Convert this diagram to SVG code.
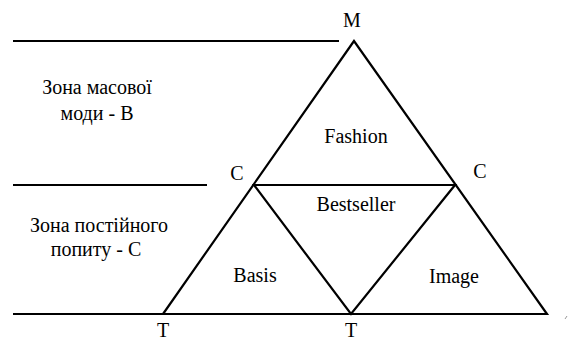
<svg xmlns="http://www.w3.org/2000/svg" width="569" height="341" viewBox="0 0 569 341" font-family="Liberation Serif, Times New Roman, serif">
<style>
text{font-size:20px;fill:#000;text-anchor:middle}
.ln{stroke:#000;stroke-width:2.2;fill:none;stroke-linecap:butt;stroke-linejoin:miter}
</style>
<rect width="569" height="341" fill="#fff"/>
<g id="connectors">
<line class="ln" x1="13" y1="41" x2="339" y2="41"/>
<line class="ln" x1="13" y1="185" x2="207" y2="185"/>
<line class="ln" x1="13" y1="314" x2="547" y2="314"/>
<polygon class="ln" points="354,41 163,314 547,314"/>
<polygon class="ln" points="254,185 455,185 351,314"/>
<line x1="565" y1="319" x2="567" y2="316" stroke="#999" stroke-width="1"/>
</g>
<g id="zone-mass-fashion">
<text x="97" y="94">Зона масової</text>
<text x="97" y="120">моди - В</text>
</g>
<g id="zone-constant-demand">
<text x="99" y="232">Зона постійного</text>
<text x="96" y="256">попиту - С</text>
</g>
<g id="fashion"><text x="356" y="143">Fashion</text></g>
<g id="bestseller"><text x="356" y="211">Bestseller</text></g>
<g id="basis"><text x="255" y="282">Basis</text></g>
<g id="image"><text x="454" y="283">Image</text></g>
<g id="vertex-M"><text x="352" y="27">M</text></g>
<g id="vertex-C-left"><text x="237" y="180">C</text></g>
<g id="vertex-C-right"><text x="480" y="178">C</text></g>
<g id="vertex-T-left"><text x="163" y="337">T</text></g>
<g id="vertex-T-mid"><text x="351" y="337">T</text></g>
</svg>
